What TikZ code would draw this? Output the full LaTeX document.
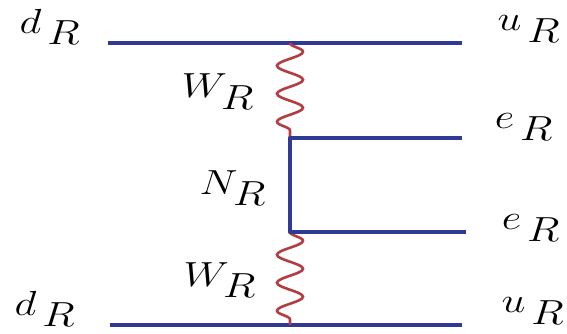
\documentclass[tikz,border=0pt]{standalone}
\usepackage{amsmath}
\usepackage{tikz}
\usetikzlibrary{decorations.pathmorphing}
\definecolor{fermion}{RGB}{48,58,150}
\definecolor{boson}{RGB}{178,62,66}

\begin{document}
\begin{tikzpicture}[x=1pt, y=1pt]
    \tikzset{
        lab/.style={inner sep=0pt, xscale=1.72, yscale=1.4, transform shape, font=\Huge},
        fline/.style={fermion, line width=4.5pt},
        wline/.style={boson, line width=2.6pt, decorate,
            decoration={snake, segment length=28, amplitude=13}}
    }
    \useasboundingbox (0, 0) rectangle (567, -334);

    % Vertices and line ends
    \coordinate (tl) at (108, -43);
    \coordinate (tr) at (462, -43);
    \coordinate (vt) at (290, -43);
    \coordinate (n1) at (290, -138);
    \coordinate (e1) at (462, -138);
    \coordinate (n2) at (290, -232);
    \coordinate (e2) at (466, -232);
    \coordinate (vb) at (290, -325);
    \coordinate (bl) at (110, -325);
    \coordinate (br) at (462, -325);

    % Quark lines
    \draw[fline] (tl) -- (tr);
    \draw[fline] (bl) -- (br);

    % W bosons
    \draw[wline] (vt) -- (n1);
    \draw[wline] (n2) -- (vb);

    % Heavy neutrino and electrons
    \draw[fline, line join=round] (e1) -- (n1) -- (n2) -- (e2);

    % Labels
    \node[lab] (dtop) at (50, -27) {$d_{\,\textstyle R}$};
    \node[lab] (utop) at (529, -29) {$u_{\,\textstyle R}$};
    \node[lab] (wtop) at (218, -92) {$W_{\textstyle R}$};
    \node[lab] (nr)   at (233, -188) {$N_{\textstyle R}$};
    \node[lab] (etop) at (524, -127) {$e_{\,\textstyle R}$};
    \node[lab] (ebot) at (531, -228) {$e_{\,\textstyle R}$};
    \node[lab] (wbot) at (220, -280) {$W_{\textstyle R}$};
    \node[lab] (dbot) at (45, -309) {$d_{\,\textstyle R}$};
    \node[lab] (ubot) at (533, -311) {$u_{\,\textstyle R}$};
\end{tikzpicture}
\end{document}
